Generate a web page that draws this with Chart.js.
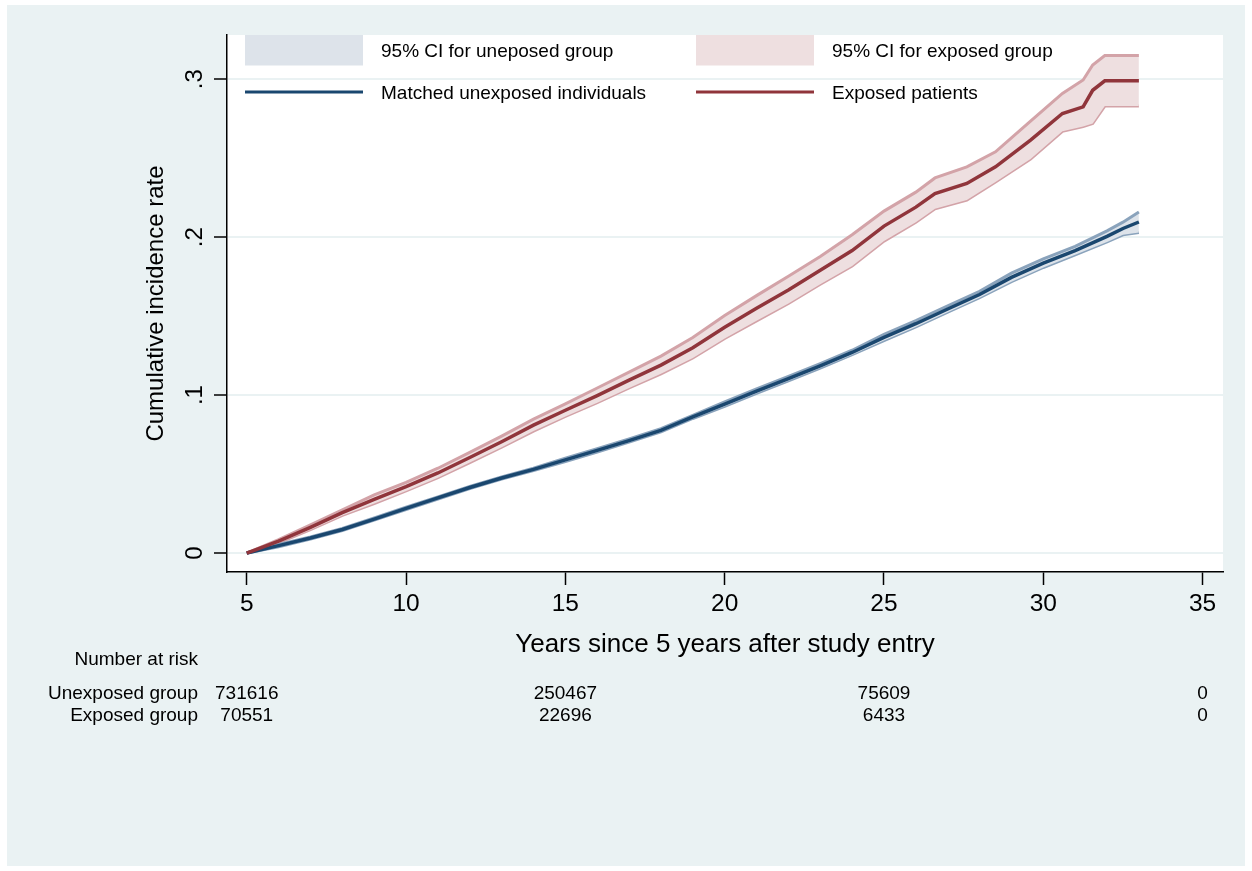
<!DOCTYPE html>
<html>
<head>
<meta charset="utf-8">
<script src="https://cdn.jsdelivr.net/npm/chart.js@4.4.1/dist/chart.umd.min.js"></script>
<style>
  html, body { margin: 0; padding: 0; background: #fff; }
  #wrap { width: 1252px; height: 871px; position: relative; }
</style>
</head>
<body>
<div id="wrap"><canvas id="kmChart"></canvas></div>
<script>
// Exposed patients
const exposedTime  = [5, 6, 7, 8, 9, 10, 11, 12, 13, 14, 15, 16, 17, 18, 19, 20, 21, 22, 23, 24, 25, 26, 26.6, 27.6, 28.5, 29.6, 30.6, 31.25, 31.55, 31.93, 33];
const exposedRate  = [0, 0.0075, 0.0163, 0.0256, 0.034, 0.042, 0.0507, 0.0605, 0.0705, 0.081, 0.0904, 0.0997, 0.1095, 0.119, 0.130, 0.143, 0.155, 0.1665, 0.179, 0.1915, 0.207, 0.219, 0.2276, 0.234, 0.2445, 0.2614, 0.2783, 0.2825, 0.293, 0.299, 0.299];
const exposedUpper = [0, 0.0085, 0.0178, 0.0273, 0.0368, 0.0447, 0.0537, 0.0637, 0.074, 0.0848, 0.0945, 0.1045, 0.1145, 0.1247, 0.1365, 0.1504, 0.163, 0.1752, 0.1878, 0.2015, 0.2165, 0.2285, 0.2375, 0.2445, 0.254, 0.2735, 0.291, 0.2995, 0.309, 0.315, 0.315];
const exposedLower = [0, 0.0065, 0.0148, 0.0238, 0.0313, 0.0393, 0.0477, 0.0573, 0.067, 0.0772, 0.0865, 0.0952, 0.1045, 0.1135, 0.1235, 0.1358, 0.147, 0.158, 0.1702, 0.1818, 0.1975, 0.2095, 0.218, 0.2235, 0.235, 0.2495, 0.267, 0.270, 0.272, 0.283, 0.283];

// Matched unexposed individuals
const unexposedTime  = [5, 6, 7, 8, 9, 10, 11, 12, 13, 14, 15, 16, 17, 18, 19, 20, 21, 22, 23, 24, 25, 26, 27, 28, 29, 30, 31, 32, 32.5, 33];
const unexposedRate  = [0, 0.0047, 0.0095, 0.0149, 0.0215, 0.0283, 0.0349, 0.0415, 0.0475, 0.053, 0.059, 0.065, 0.0712, 0.0777, 0.0862, 0.0943, 0.1025, 0.1105, 0.1185, 0.127, 0.1365, 0.1452, 0.1545, 0.1637, 0.1745, 0.1835, 0.1915, 0.2005, 0.2055, 0.2096];
const unexposedUpper = [0, 0.0054, 0.0102, 0.0156, 0.0222, 0.029, 0.0356, 0.0422, 0.0482, 0.0537, 0.06, 0.066, 0.0722, 0.0787, 0.0872, 0.0957, 0.1039, 0.1119, 0.1199, 0.1284, 0.1385, 0.1472, 0.1565, 0.1657, 0.1772, 0.1862, 0.1942, 0.204, 0.2095, 0.216];
const unexposedLower = [0, 0.004, 0.0088, 0.0142, 0.0208, 0.0276, 0.0342, 0.0408, 0.0468, 0.0523, 0.058, 0.064, 0.0702, 0.0767, 0.0852, 0.0929, 0.1011, 0.1091, 0.1171, 0.1256, 0.1345, 0.1432, 0.1525, 0.1617, 0.1718, 0.1808, 0.1888, 0.197, 0.2015, 0.203];

// axes
const xTicks = [5, 10, 15, 20, 25, 30, 35];
const yTicks = [0, 0.1, 0.2, 0.3];
const yTickLabels = ['0', '.1', '.2', '.3'];

// number at risk
const riskTimes = [5, 15, 25, 35];
const riskUnexposed = [731616, 250467, 75609, 0];
const riskExposed = [70551, 22696, 6433, 0];

const legendItems = [
  { text: '95% CI for uneposed group', kind: 'box', color: '#DDE3EA' },
  { text: '95% CI for exposed group', kind: 'box', color: '#EEDFE0' },
  { text: 'Matched unexposed individuals', kind: 'line', color: '#1A476F' },
  { text: 'Exposed patients', kind: 'line', color: '#90353B' }
];

const FONT = '"Liberation Sans", Arial, sans-serif';

function pts(xs, ys) {
  return xs.map((x, i) => ({ x: x, y: ys[i] }));
}

const stataDecor = {
  id: 'stataDecor',
  beforeDraw(chart) {
    const { ctx, chartArea: ca } = chart;
    ctx.save();
    ctx.fillStyle = '#ffffff';
    ctx.fillRect(0, 0, chart.width, chart.height);
    ctx.fillStyle = '#EAF2F3';
    ctx.fillRect(7, 5, chart.width - 14, chart.height - 10);
    ctx.fillStyle = '#ffffff';
    ctx.fillRect(ca.left, ca.top, ca.right - ca.left, ca.bottom - ca.top);
    ctx.restore();
  },
  afterDraw(chart) {
    const { ctx, chartArea: ca } = chart;
    const xs = chart.scales.x, ys = chart.scales.y;
    ctx.save();
    ctx.fillStyle = '#000';

    // y tick labels, rotated like Stata
    ctx.font = '24px ' + FONT;
    ctx.textAlign = 'center';
    ctx.textBaseline = 'alphabetic';
    yTicks.forEach((v, i) => {
      ctx.save();
      ctx.translate(ca.left - 25.5, ys.getPixelForValue(v));
      ctx.rotate(-Math.PI / 2);
      ctx.fillText(yTickLabels[i], 0, 0);
      ctx.restore();
    });

    // y title
    ctx.font = '24px ' + FONT;
    ctx.save();
    ctx.translate(ca.left - 64, (ca.top + ca.bottom) / 2);
    ctx.rotate(-Math.PI / 2);
    ctx.fillText('Cumulative incidence rate', 0, 0);
    ctx.restore();

    // x title
    ctx.font = '26px ' + FONT;
    ctx.fillText('Years since 5 years after study entry', (ca.left + ca.right) / 2, ca.bottom + 80);

    // legend
    ctx.font = '19px ' + FONT;
    ctx.textAlign = 'left';
    legendItems.forEach((item, i) => {
      const col = i % 2, row = Math.floor(i / 2);
      const x0 = ca.left + 18 + col * 451;
      if (item.kind === 'box') {
        ctx.fillStyle = item.color;
        ctx.fillRect(x0, ca.top, 118, 30.5);
      } else {
        ctx.strokeStyle = item.color;
        ctx.lineWidth = 3;
        ctx.beginPath();
        ctx.moveTo(x0, ca.top + 57);
        ctx.lineTo(x0 + 118, ca.top + 57);
        ctx.stroke();
      }
      ctx.fillStyle = '#000';
      ctx.fillText(item.text, x0 + 136, ca.top + 22 + row * 42);
    });

    // number at risk table
    ctx.font = '19px ' + FONT;
    ctx.textAlign = 'right';
    ctx.fillText('Number at risk', 198, 665);
    ctx.fillText('Unexposed group', 198, 699);
    ctx.fillText('Exposed group', 198, 721);
    ctx.textAlign = 'center';
    riskTimes.forEach((t, i) => {
      const px = xs.getPixelForValue(t);
      ctx.fillText(String(riskUnexposed[i]), px, 699);
      ctx.fillText(String(riskExposed[i]), px, 721);
    });
    ctx.restore();
  }
};

const ctx = document.getElementById('kmChart').getContext('2d');

new Chart(ctx, {
  type: 'line',
  data: {
    datasets: [
      {
        label: 'Exposed patients',
        data: pts(exposedTime, exposedRate),
        borderColor: '#90353B',
        borderWidth: 3.5,
        order: 0
      },
      {
        label: 'Matched unexposed individuals',
        data: pts(unexposedTime, unexposedRate),
        borderColor: '#1A476F',
        borderWidth: 3.5,
        order: 0
      },
      {
        label: 'exp lower',
        data: pts(exposedTime, exposedLower),
        borderColor: '#D3A3A8',
        borderWidth: 3,
        fill: false,
        order: 2
      },
      {
        label: '95% CI for exposed group',
        data: pts(exposedTime, exposedUpper),
        borderColor: '#D3A3A8',
        borderWidth: 3,
        backgroundColor: '#EEDFE0',
        fill: '-1',
        order: 1
      },
      {
        label: 'unexp lower',
        data: pts(unexposedTime, unexposedLower),
        borderColor: '#8AA3BC',
        borderWidth: 3,
        fill: false,
        order: 2
      },
      {
        label: '95% CI for uneposed group',
        data: pts(unexposedTime, unexposedUpper),
        borderColor: '#8AA3BC',
        borderWidth: 3,
        backgroundColor: '#DDE3EA',
        fill: '-1',
        order: 1
      }
    ]
  },
  options: {
    responsive: true,
    maintainAspectRatio: false,
    animation: false,
    devicePixelRatio: 1,
    layout: { padding: { top: 35, right: 29, left: 0, bottom: 0 } },
    elements: {
      point: { radius: 0 },
      line: { tension: 0 }
    },
    plugins: {
      legend: { display: false },
      tooltip: { enabled: false }
    },
    scales: {
      x: {
        type: 'linear',
        min: 4.38,
        max: 35.64,
        afterBuildTicks: s => { s.ticks = xTicks.map(v => ({ value: v })); },
        afterFit: s => { s.height = 299; },
        grid: { drawOnChartArea: false, tickColor: '#000', tickLength: 13, tickWidth: 1.5 },
        border: { color: '#000', width: 1.5 },
        ticks: {
          color: '#000',
          font: { family: FONT, size: 24.5 },
          padding: 5,
          maxRotation: 0
        }
      },
      y: {
        type: 'linear',
        min: -0.012,
        max: 0.328,
        afterBuildTicks: s => { s.ticks = yTicks.map(v => ({ value: v })); },
        afterFit: s => { s.width = 227; },
        grid: { color: '#EAF2F3', lineWidth: 2, tickColor: '#000', tickLength: 13, tickWidth: 1.5 },
        border: { color: '#000', width: 1.5 },
        ticks: { display: false }
      }
    }
  },
  plugins: [stataDecor]
});
</script>
</body>
</html>
